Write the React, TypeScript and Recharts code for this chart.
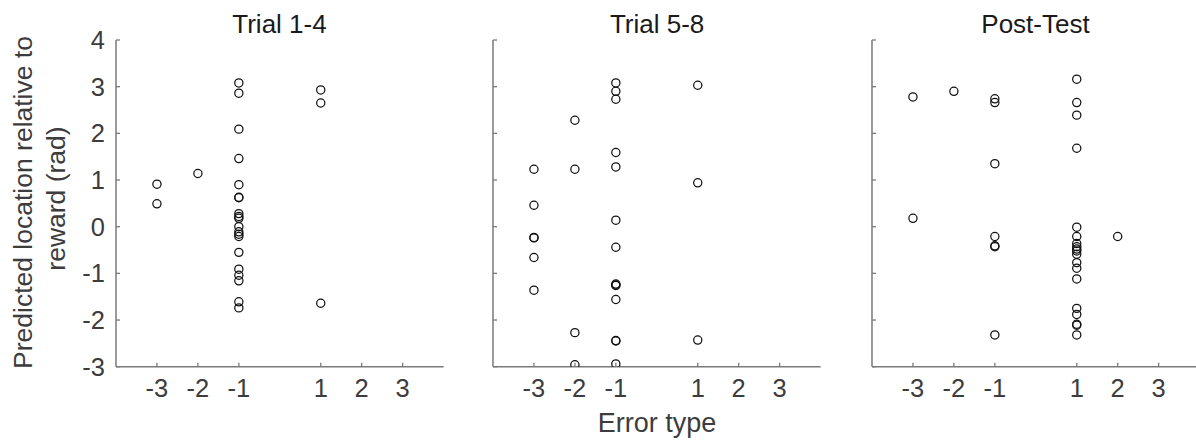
import React from "react";
import { ScatterChart, Scatter, XAxis, YAxis } from "recharts";

// Error type categories on the x axis (0 is not a category)
const errorTypes = [-3, -2, -1, 1, 2, 3];
const xTicks = [-3, -2, -1, 1, 2, 3];
const yTicks = [-3, -2, -1, 0, 1, 2, 3, 4];

// Predicted location relative to reward (rad), grouped by error type (same order as errorTypes)
const trial1to4 = [
  [0.91, 0.49],
  [1.14],
  [3.08, 2.86, 2.09, 1.46, 0.9, 0.63, 0.62, 0.28, 0.22, 0.18, 0.0, -0.11, -0.16, -0.21, -0.55, -0.91, -1.04, -1.16, -1.61, -1.74],
  [2.93, 2.65, -1.64],
  [],
  [],
];
const trial5to8 = [
  [1.23, 0.46, -0.23, -0.24, -0.66, -1.36],
  [2.28, 1.23, -2.27, -2.96],
  [3.08, 2.9, 2.73, 1.59, 1.28, 0.14, -0.44, -1.23, -1.25, -1.26, -1.56, -2.44, -2.45, -2.94],
  [3.03, 0.94, -2.43],
  [],
  [],
];
const postTest = [
  [2.78, 0.18],
  [2.9],
  [2.74, 2.66, 1.35, -0.21, -0.41, -0.43, -2.32],
  [3.16, 2.66, 2.39, 1.68, -0.01, -0.21, -0.36, -0.43, -0.48, -0.52, -0.59, -0.77, -0.89, -1.12, -1.75, -1.88, -2.09, -2.11, -2.32],
  [-0.21],
  [],
];

const panelTitles = ["Trial 1-4", "Trial 5-8", "Post-Test"];
const panelData = [trial1to4, trial5to8, postTest];

const FONT = "'Liberation Sans', Arial, Helvetica, sans-serif";
const AXIS_COLOR = "#7a7a7a";
const TEXT_COLOR = "#3c3c3c";

const PLOT_TOP = 40;
const PLOT_BOTTOM = 366.7;
const PLOT_WIDTH = 327.6;
const PLOT_LEFTS = [115.7, 493.3, 871.7];
const Y_AXIS_W = 60;
const X_AXIS_H = 30;
const CHART_H = 444;
const RIGHT_PAD = 6;

const toPoints = (groups: number[][]) =>
  groups.flatMap((vals, i) => vals.map((v) => ({ x: errorTypes[i], y: v })));

const XTick = (props: any) => {
  const { x, y, payload } = props;
  return (
    <g>
      <line x1={x} x2={x} y1={y} y2={y - 4} stroke={AXIS_COLOR} strokeWidth={1.3} />
      <text x={x} y={y + 30} textAnchor="middle" fontSize={25.5} fontFamily={FONT} fill={TEXT_COLOR}>
        {payload.value}
      </text>
    </g>
  );
};

const makeYTick = (showLabel: boolean) => (props: any) => {
  const { x, y, payload } = props;
  return (
    <g>
      <line x1={x} x2={x + 4} y1={y} y2={y} stroke={AXIS_COLOR} strokeWidth={1.3} />
      {showLabel && (
        <text x={x - 11} y={y + 9} textAnchor="end" fontSize={25.5} fontFamily={FONT} fill={TEXT_COLOR}>
          {payload.value}
        </text>
      )}
    </g>
  );
};

const Ring = (props: any) => {
  const { cx, cy } = props;
  if (cx == null || cy == null) return null;
  return <circle cx={cx} cy={cy} r={4.1} fill="none" stroke="#111" strokeWidth={1.25} />;
};

function Panel({ index }: { index: number }) {
  const left = PLOT_LEFTS[index] - Y_AXIS_W;
  const width = Y_AXIS_W + PLOT_WIDTH + RIGHT_PAD;
  const data = toPoints(panelData[index]);
  return (
    <div style={{ position: "absolute", left, top: 0 }}>
      <ScatterChart
        width={width}
        height={CHART_H}
        margin={{ top: PLOT_TOP, right: RIGHT_PAD, left: 0, bottom: CHART_H - PLOT_BOTTOM - X_AXIS_H }}
      >
        <XAxis
          type="number"
          dataKey="x"
          domain={[-4, 4]}
          ticks={xTicks}
          interval={0}
          height={X_AXIS_H}
          tickSize={0}
          tickMargin={0}
          tickLine={false}
          axisLine={{ stroke: AXIS_COLOR, strokeWidth: 1.5 }}
          tick={XTick}
          allowDataOverflow
        />
        <YAxis
          type="number"
          dataKey="y"
          domain={[-3, 4]}
          ticks={yTicks}
          interval={0}
          width={Y_AXIS_W}
          tickSize={0}
          tickMargin={0}
          tickLine={false}
          axisLine={{ stroke: AXIS_COLOR, strokeWidth: 1.5 }}
          tick={makeYTick(index === 0)}
          allowDataOverflow
        />
        <Scatter data={data} shape={Ring} isAnimationActive={false} />
      </ScatterChart>
    </div>
  );
}

export default function App() {
  return (
    <div
      style={{
        position: "absolute",
        left: 0,
        top: 0,
        width: 1196,
        height: 444,
        background: "#fff",
        overflow: "hidden",
      }}
    >
      {[0, 1, 2].map((i) => (
        <Panel key={i} index={i} />
      ))}
      <svg
        width={1196}
        height={444}
        style={{ position: "absolute", left: 0, top: 0, pointerEvents: "none" }}
      >
        {panelTitles.map((t, i) => (
          <text
            key={t}
            x={PLOT_LEFTS[i] + PLOT_WIDTH / 2}
            y={33.3}
            textAnchor="middle"
            fontSize={26}
            fontFamily={FONT}
            fill="#1a1a1a"
          >
            {t}
          </text>
        ))}
        <text
          x={PLOT_LEFTS[1] + PLOT_WIDTH / 2}
          y={432.3}
          textAnchor="middle"
          fontSize={27}
          fontFamily={FONT}
          fill={TEXT_COLOR}
        >
          Error type
        </text>
        <g transform="translate(31.7, 202.5) rotate(-90)">
          <text x={0} y={0} textAnchor="middle" fontSize={26.5} fontFamily={FONT} fill={TEXT_COLOR}>
            Predicted location relative to
          </text>
        </g>
        <g transform="translate(65, 198.5) rotate(-90)">
          <text x={0} y={0} textAnchor="middle" fontSize={26.5} fontFamily={FONT} fill={TEXT_COLOR}>
            reward (rad)
          </text>
        </g>
      </svg>
    </div>
  );
}
